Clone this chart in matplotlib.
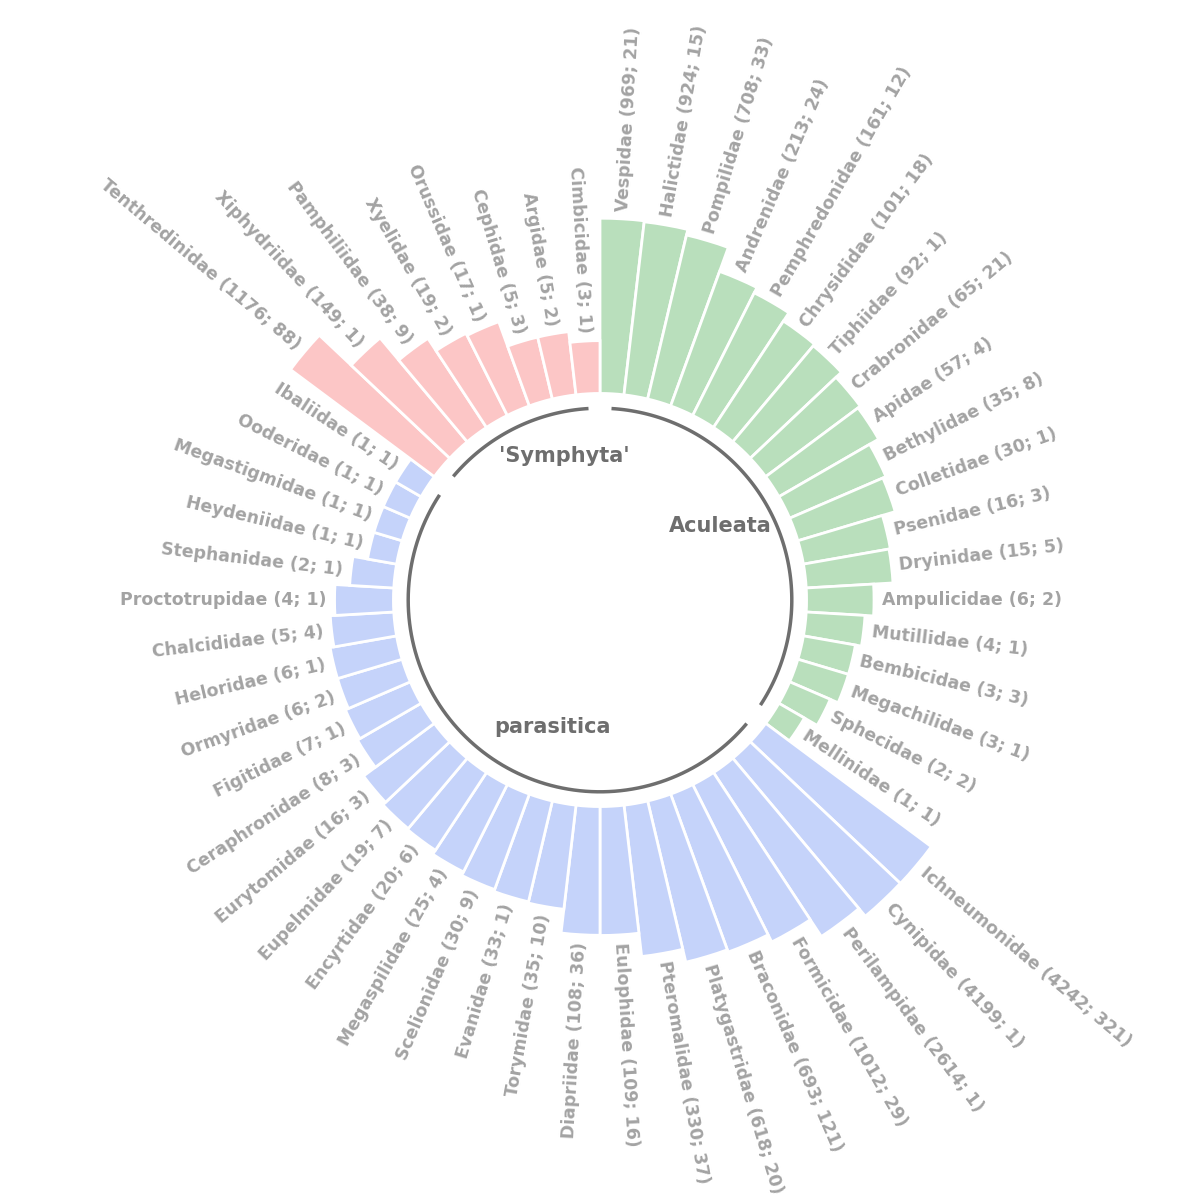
import numpy as np
import matplotlib.pyplot as plt

# families (records; species) per group, clockwise from the top
aculeata_names = ['Vespidae', 'Halictidae', 'Pompilidae', 'Andrenidae', 'Pemphredonidae', 'Chrysididae',
                  'Tiphiidae', 'Crabronidae', 'Apidae', 'Bethylidae', 'Colletidae', 'Psenidae', 'Dryinidae',
                  'Ampulicidae', 'Mutillidae', 'Bembicidae', 'Megachilidae', 'Sphecidae', 'Mellinidae']
aculeata_n = [969, 924, 708, 213, 161, 101, 92, 65, 57, 35, 30, 16, 15, 6, 4, 3, 3, 2, 1]
aculeata_sp = [21, 15, 33, 24, 12, 18, 1, 21, 4, 8, 1, 3, 5, 2, 1, 3, 1, 2, 1]

parasitica_names = ['Ichneumonidae', 'Cynipidae', 'Perilampidae', 'Formicidae', 'Braconidae', 'Platygastridae',
                    'Pteromalidae', 'Eulophidae', 'Diapriidae', 'Torymidae', 'Evanidae', 'Scelionidae',
                    'Megaspilidae', 'Encyrtidae', 'Eupelmidae', 'Eurytomidae', 'Ceraphronidae', 'Figitidae',
                    'Ormyridae', 'Heloridae', 'Chalcididae', 'Proctotrupidae', 'Stephanidae', 'Heydeniidae',
                    'Megastigmidae', 'Ooderidae', 'Ibaliidae']
parasitica_n = [4242, 4199, 2614, 1012, 693, 618, 330, 109, 108, 35, 33, 30, 25, 20, 19, 16, 8, 7, 6, 6, 5, 4,
                2, 1, 1, 1, 1]
parasitica_sp = [321, 1, 1, 29, 121, 20, 37, 16, 36, 10, 1, 9, 4, 6, 7, 3, 3, 1, 2, 1, 4, 1, 1, 1, 1, 1, 1]

symphyta_names = ['Tenthredinidae', 'Xiphydriidae', 'Pamphiliidae', 'Xyelidae', 'Orussidae', 'Cephidae',
                  'Argidae', 'Cimbicidae']
symphyta_n = [1176, 149, 38, 19, 17, 5, 5, 3]
symphyta_sp = [88, 1, 9, 2, 1, 3, 2, 1]

groups = [("Aculeata", aculeata_names, aculeata_n, aculeata_sp, '#b9dfbc'),
          ("parasitica", parasitica_names, parasitica_n, parasitica_sp, '#c5d3fa'),
          ("'Symphyta'", symphyta_names, symphyta_n, symphyta_sp, '#fcc6c6')]

total = sum(len(g[1]) for g in groups)
step = 2 * np.pi / total
base = 210

fig = plt.figure(figsize=(12, 12), dpi=100)
ax = fig.add_axes([0, 0, 1, 1], projection='polar')
ax.set_theta_offset(np.pi / 2)
ax.set_theta_direction(-1)
ax.set_ylim(0, 610)
ax.axis('off')

i = 0
for gname, names, n, sp, col in groups:
    start = i
    for name, v, s in zip(names, n, sp):
        th = (i + 0.5) * step
        h = 30 + 49.6 * np.log10(v)
        ax.bar(th, h, width=step, bottom=base, color=col, edgecolor='white', linewidth=2)
        deg = 90 - np.degrees(th)  # screen angle
        deg = (deg + 360) % 360
        if 90 < deg < 270:
            rot, ha = deg + 180, 'right'
        else:
            rot, ha = deg, 'left'
        ax.text(th, base + h + 8, f"{name} ({v}; {s})", rotation=rot, rotation_mode='anchor',
                ha=ha, va='center', fontsize=12.5, fontweight='bold', color='#a3a3a3')
        i += 1
    # inner arc for the group
    arc = np.linspace(start * step + 0.06, i * step - 0.06, 100)
    ax.plot(arc, np.full_like(arc, 195), color='#6e6e6e', lw=2.5, solid_capstyle='butt')

fig.text(0.47, 0.62, "'Symphyta'", fontsize=15, fontweight='bold', color='#6e6e6e', ha='center', va='center')
fig.text(0.60, 0.562, "Aculeata", fontsize=15, fontweight='bold', color='#6e6e6e', ha='center', va='center')
fig.text(0.46, 0.394, "parasitica", fontsize=15, fontweight='bold', color='#6e6e6e', ha='center', va='center')

plt.savefig('out.png')
